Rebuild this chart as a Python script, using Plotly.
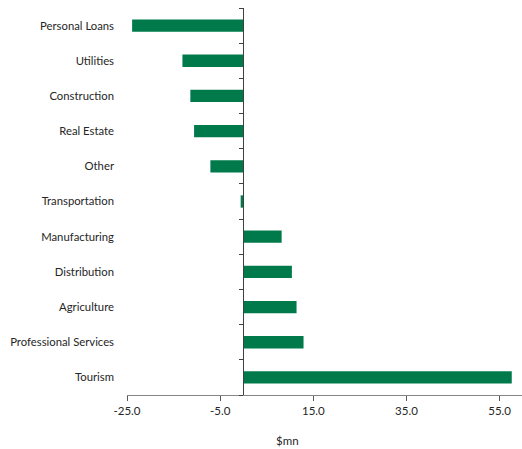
import plotly.graph_objects as go

# Change in lending by sector ($mn)
sectors = ["Personal Loans", "Utilities", "Construction", "Real Estate", "Other",
           "Transportation", "Manufacturing", "Distribution", "Agriculture",
           "Professional Services", "Tourism"]
change_mn = [-23.9, -13.1, -11.4, -10.6, -7.1, -0.6, 8.2, 10.4, 11.4, 12.9, 57.6]
x_ticks = [-25, -5, 15, 35, 55]
x_tick_labels = [f"{v:.1f}" for v in x_ticks]  # plain hyphen for negatives

x_range = [-25, 59.8]
bar_color = "#007A4B"
font_family = "Lato, 'Open Sans', sans-serif"
text_color = "#262626"

fig = go.Figure()
fig.add_trace(go.Bar(
    x=change_mn, y=sectors, orientation="h",
    marker=dict(color=bar_color, line=dict(width=0)),
    width=0.35, hoverinfo="x+y",
))
# invisible trace that carries the zero-line axis with boundary ticks
fig.add_trace(go.Scatter(
    x=[0] * len(sectors), y=sectors, yaxis="y2", mode="markers",
    marker=dict(opacity=0), showlegend=False, hoverinfo="skip",
))

zero_pos = (0 - x_range[0]) / (x_range[1] - x_range[0])

fig.update_layout(
    width=522, height=449,
    margin=dict(l=127, r=0, t=8, b=54),
    paper_bgcolor="white", plot_bgcolor="white",
    showlegend=False,
    font=dict(family=font_family, size=11, color=text_color),
    xaxis=dict(
        range=x_range, tickvals=x_ticks, ticktext=x_tick_labels,
        showgrid=False, zeroline=False,
        showline=True, linecolor="#868686", linewidth=1.3,
        ticks="outside", ticklen=5, tickcolor="#595959", tickwidth=1,
        tickfont=dict(size=11.5, color=text_color),
    ),
    yaxis=dict(
        type="category", categoryorder="array", categoryarray=sectors[::-1],
        autorange=False, range=[-0.5, len(sectors) - 0.5],
        showgrid=False, zeroline=False, showline=False, ticks="",
        ticklabelstandoff=12,
        tickfont=dict(size=11.3, color=text_color),
    ),
    yaxis2=dict(
        type="category", categoryorder="array", categoryarray=sectors[::-1],
        overlaying="y", anchor="free", position=zero_pos, side="left",
        autorange=False, range=[-0.5, len(sectors) - 0.5],
        showgrid=False, zeroline=False, showticklabels=False,
        showline=True, linecolor="#404040", linewidth=1.3,
        ticks="outside", tickson="boundaries", ticklen=4,
        tickcolor="#404040", tickwidth=1,
    ),
    annotations=[dict(
        text="$mn", xref="paper", yref="paper", x=(287 - 127) / (522 - 127),
        y=0, yshift=-45, yanchor="middle", showarrow=False,
        font=dict(size=11.5, color=text_color),
    )],
)

fig.write_html("out.html")
